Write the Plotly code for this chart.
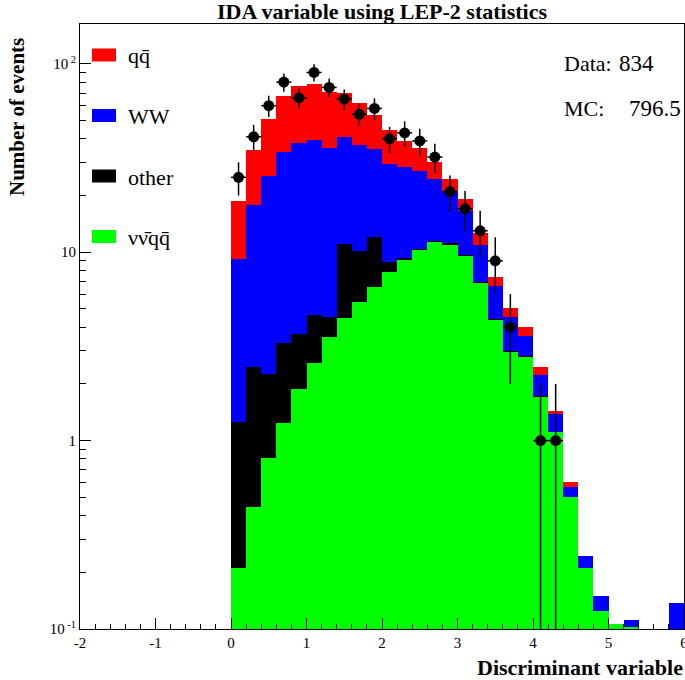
import math
import plotly.graph_objects as go

# ---------------- data ----------------
bin_centers = [0.1, 0.3, 0.5, 0.7, 0.9, 1.1, 1.3, 1.5, 1.7, 1.9,
               2.1, 2.3, 2.5, 2.7, 2.9, 3.1, 3.3, 3.5, 3.7, 3.9,
               4.1, 4.3, 4.5, 4.7, 4.9, 5.1, 5.3, 5.5, 5.7, 5.9]
bin_width = 0.2

nunuqq = [0.210, 0.443, 0.811, 1.24, 1.89, 2.57, 3.53, 4.49, 5.43, 6.50,
          7.87, 9.07, 10.3, 11.4, 11.0, 9.60, 6.88, 4.38, 2.96, 2.79,
          1.71, 1.11, 0.501, 0.211, 0.124, 0.106, 0.103, 0, 0, 0]
other = [1.04, 2.01, 1.46, 2.06, 1.81, 2.08, 1.01, 6.61, 4.67, 5.5,
         1.06, 0.27, 0.1, 0.1, 0.15, 0.10, 0.08, 0.05, 0.03, 0.03,
         0.01, 0, 0, 0, 0, 0, 0, 0, 0, 0]
ww = [7.98, 15.45, 23.2, 30.9, 34.1, 34.95, 31.4, 30.0, 26.9, 23.5,
      20.3, 18.9, 16.5, 13.1, 9.75, 6.9, 3.9, 2.22, 1.53, 0.79,
      0.50, 0.27, 0.068, 0.034, 0.026, 0, 0.008, 0, 0, 0.137]
qqbar = [9.57, 17.1, 25.8, 33.7, 38.9, 38.7, 34.8, 29.1, 24.8, 18.3,
         15.4, 10.6, 8.9, 5.5, 3.6, 2.6, 1.74, 0.72, 0.51, 0.39,
         0.25, 0.05, 0.035, 0, 0, 0, 0, 0, 0, 0]
data_counts = [25, 41, 60, 80, 66, 90, 75, 65, 54, 58,
               40, 43, 39, 32, 21, 17, 13, 9, 4, 0,
               1, 1, 0, 0, 0, 0, 0, 0, 0, 0]

series_names = ["qq\u0304", "WW", "other", "\u03bd\u03bd\u0304qq\u0304"]
series_colors = ["#ff0000", "#0000ff", "#000000", "#00ff00"]

x_tickvals = [-2, -1, 0, 1, 2, 3, 4, 5, 6]
x_ticktext = ["-2", "-1", "0", "1", "2", "3", "4", "5", "6"]
y_tickvals = [0.1, 1, 10, 100]
y_ticktext = ["10<sup> -1</sup>", "1", "10", "10<sup> 2</sup>"]

n_data = "834"
n_mc = "796.5"

# ---------------- layout geometry (pixels) ----------------
W, H = 685, 680
L, R, T, B = 80, 684, 24, 629
PW, PH = R - L, B - T
SERIF = "Liberation Serif, Times New Roman, serif"


def px_x(p):
    return (p - L) / PW


def px_y(p):
    return (B - p) / PH


fig = go.Figure()

# stacked MC histograms (bottom to top)
for vals, col in [(nunuqq, series_colors[3]), (other, series_colors[2]),
                  (ww, series_colors[1]), (qqbar, series_colors[0])]:
    fig.add_trace(go.Bar(x=bin_centers, y=vals, width=bin_width,
                         marker=dict(color=col, line=dict(width=0)),
                         showlegend=False, hoverinfo="skip"))

# data points
dx = [c for c, n in zip(bin_centers, data_counts) if n > 0]
dy = [n for n in data_counts if n > 0]
eup = [math.sqrt(n) for n in dy]
edn = [min(math.sqrt(n), n * 0.9999) for n in dy]
fig.add_trace(go.Scatter(
    x=dx, y=dy, mode="markers",
    marker=dict(color="black", size=11, symbol="circle"),
    error_y=dict(type="data", array=eup, arrayminus=edn, symmetric=False,
                 color="black", thickness=1.5, width=0),
    error_x=dict(type="constant", value=bin_width / 2, color="black",
                 thickness=1.5, width=0),
    showlegend=False, hoverinfo="skip"))

minor_y = [m * 10 ** e for e in (-1, 0, 1, 2) for m in range(2, 10)]

fig.update_layout(
    width=W, height=H,
    margin=dict(l=L, r=W - R, t=T, b=H - B, pad=0, autoexpand=False),
    paper_bgcolor="white", plot_bgcolor="white",
    barmode="stack", bargap=0,
    font=dict(family=SERIF, color="black"),
    xaxis=dict(range=[-2, 6], tickmode="array", tickvals=x_tickvals,
               ticktext=x_ticktext, ticks="inside", ticklen=11,
               tickwidth=1, tickcolor="black", showline=True,
               linecolor="black", linewidth=1, mirror=True,
               showgrid=False, zeroline=False, ticklabeloverflow="allow",
               automargin=False,
               tickfont=dict(family=SERIF, size=15, color="black"),
               minor=dict(dtick=0.2, tick0=0, ticks="inside", ticklen=5.5,
                          tickcolor="black", tickwidth=1, showgrid=False)),
    yaxis=dict(type="log", range=[-1, 2.2116], tickmode="array",
               tickvals=y_tickvals, ticktext=y_ticktext,
               ticks="inside", ticklen=11, tickwidth=1, tickcolor="black",
               showline=True, linecolor="black", linewidth=1, mirror=True,
               showgrid=False, zeroline=False, ticklabeloverflow="allow",
               automargin=False,
               tickfont=dict(family=SERIF, size=15, color="black"),
               minor=dict(tickmode="array", tickvals=minor_y, ticks="inside",
                          ticklen=6, tickcolor="black", tickwidth=1,
                          showgrid=False)),
)

annotations = []
# title
annotations.append(dict(text="<b>IDA variable using LEP-2 statistics</b>",
                        x=px_x(381.5), y=px_y(12), xref="paper", yref="paper",
                        xanchor="center", yanchor="middle", showarrow=False,
                        font=dict(family=SERIF, size=22, color="black")))
# axis titles
annotations.append(dict(text="<b>Number of events</b>", textangle=-90,
                        x=px_x(17), y=px_y(117), xref="paper", yref="paper",
                        xanchor="center", yanchor="middle", showarrow=False,
                        font=dict(family=SERIF, size=21, color="black")))
annotations.append(dict(text="<b>Discriminant variable</b>",
                        x=px_x(685), y=px_y(667), xref="paper", yref="paper",
                        xanchor="right", yanchor="middle", showarrow=False,
                        font=dict(family=SERIF, size=22, color="black")))
# Data / MC counts
for lab, val, yc, xv in [("Data:", n_data, 63, 617), ("MC:", n_mc, 108, 627)]:
    annotations.append(dict(text=lab, x=px_x(562), y=px_y(yc), xref="paper",
                            yref="paper", xanchor="left", yanchor="middle",
                            showarrow=False,
                            font=dict(family=SERIF, size=22, color="black")))
    annotations.append(dict(text=val, x=px_x(xv), y=px_y(yc), xref="paper",
                            yref="paper", xanchor="left", yanchor="middle",
                            showarrow=False,
                            font=dict(family=SERIF, size=23, color="black")))

# legend (boxes + labels)
shapes = []
legend_y = [55, 115.5, 176, 236.5]
for name, col, yc in zip(series_names, series_colors, legend_y):
    shapes.append(dict(type="rect", xref="paper", yref="paper",
                       x0=px_x(92), x1=px_x(116), y0=px_y(yc + 6.5),
                       y1=px_y(yc - 6.5), fillcolor=col,
                       line=dict(width=0)))
    annotations.append(dict(text=name, x=px_x(126), y=px_y(yc + 1),
                            xref="paper", yref="paper", xanchor="left",
                            yanchor="middle", showarrow=False,
                            font=dict(family=SERIF, size=22, color="black")))

fig.update_layout(annotations=annotations, shapes=shapes)

fig.write_html("out.html")
